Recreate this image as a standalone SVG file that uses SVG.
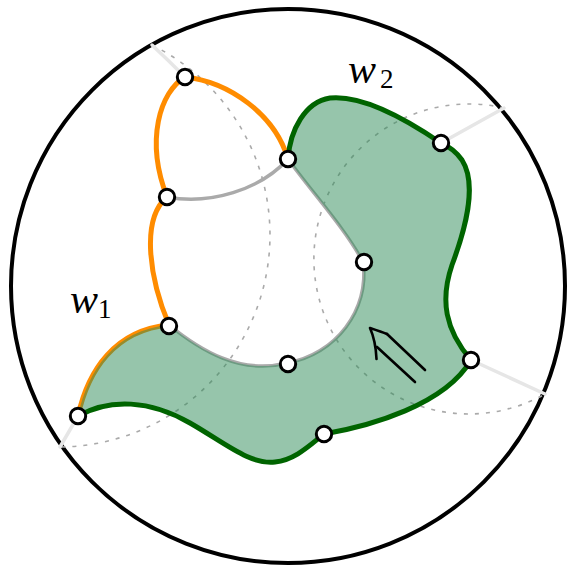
<svg xmlns="http://www.w3.org/2000/svg" width="567" height="569" viewBox="0 0 567 569">
  <style>
    .dash { fill: none; stroke: #aaaaaa; stroke-width: 1.6; stroke-dasharray: 4 7; }
    .light { fill: none; stroke: #e6e6e6; stroke-width: 3.5; stroke-linecap: round; }
    .gray { fill: none; stroke: #aaaaaa; stroke-width: 3.5; }
    .orange { fill: none; stroke: #ff8c00; stroke-width: 5; }
    .region { fill: #2e8b57; fill-opacity: 0.5; stroke: none; }
    .outline { fill: none; stroke: #006400; stroke-width: 5; stroke-linejoin: round; }
    .arrow { fill: none; stroke: #000000; stroke-width: 2.6; stroke-linecap: round; stroke-linejoin: round; }
    .node circle { fill: #ffffff; stroke: #000000; stroke-width: 3; }
    .lbl { font-family: "Liberation Serif", "DejaVu Serif", serif; fill: #000000; }
  </style>
  <g id="boundary">
    <circle cx="288" cy="286" r="277" fill="none" stroke="#000000" stroke-width="4"/>
  </g>
  <g id="connectors">
    <path class="dash" d="M152,45 A212,212 0 0 1 60,447"/>
    <path class="dash" d="M504,108 A155,155 0 1 0 545,394"/>
    <path class="light" d="M152,45 Q168,60 185,77"/>
    <path class="light" d="M441,143 L504,108"/>
    <path class="light" d="M471,360 L545,394"/>
    <path class="light" d="M78,416 L60,447"/>
    <path class="gray" d="M167,197 C210,205 260,190 288,159"/>
    <path class="gray" d="M288,159 C310,190 345,228 363,262"/>
    <path class="gray" d="M363,262 C370,310 335,355 287,363"/>
    <path class="gray" d="M287,363 C240,375 200,350 169,325"/>
    <path class="orange" d="M185,77 C230,82 275,115 288,159"/>
    <path class="orange" d="M185,77 C160,92 145,140 167,197"/>
    <path class="orange" d="M167,197 C140,220 150,280 169,325"/>
    <path class="orange" d="M169,325 C115,330 88,370 78,416"/>
  </g>
  <g id="w2-region">
    <path class="region" d="M78,416 C110,398 150,400 190,423 C225,443 250,465 275,462 C295,460 310,445 324,434 C370,426 445,405 471,360 C445,330 440,300 452,265 C465,230 478,185 462,160 C455,150 448,146 441,143 C400,115 360,95 330,98 C305,102 290,130 288,159 C310,190 345,228 363,262 C370,310 335,355 287,363 C240,375 200,350 169,325 C115,330 88,370 78,416 Z"/>
    <path class="outline" d="M78,416 C110,398 150,400 190,423 C225,443 250,465 275,462 C295,460 310,445 324,434 C370,426 445,405 471,360 C445,330 440,300 452,265 C465,230 478,185 462,160 C455,150 448,146 441,143 C400,115 360,95 330,98 C305,102 290,130 288,159"/>
  </g>
  <g id="arrow">
    <path class="arrow" d="M425,370 L387,334"/>
    <path class="arrow" d="M415,382 L377,347"/>
    <path class="arrow" d="M376.5,359 C376,347 374,337 370,328 C376,330 382,332 387,334"/>
  </g>
  <g id="nA" class="node"><circle cx="185" cy="77" r="7.7"/></g>
  <g id="nB" class="node"><circle cx="288" cy="159" r="7.7"/></g>
  <g id="nC" class="node"><circle cx="167" cy="197" r="7.7"/></g>
  <g id="nD" class="node"><circle cx="169" cy="326" r="7.7"/></g>
  <g id="nE" class="node"><circle cx="78" cy="416" r="7.7"/></g>
  <g id="nF" class="node"><circle cx="364" cy="262" r="7.7"/></g>
  <g id="nG" class="node"><circle cx="288" cy="364" r="7.7"/></g>
  <g id="nH" class="node"><circle cx="441" cy="143" r="7.7"/></g>
  <g id="nI" class="node"><circle cx="471" cy="360" r="7.7"/></g>
  <g id="nJ" class="node"><circle cx="324" cy="434" r="7.7"/></g>
  <g id="label-w1">
    <text class="lbl" x="70" y="313" font-size="42" font-style="italic">w</text>
    <text class="lbl" x="98" y="318" font-size="27">1</text>
  </g>
  <g id="label-w2">
    <text class="lbl" x="348" y="83" font-size="42" font-style="italic">w</text>
    <text class="lbl" x="380" y="88" font-size="27">2</text>
  </g>
</svg>
